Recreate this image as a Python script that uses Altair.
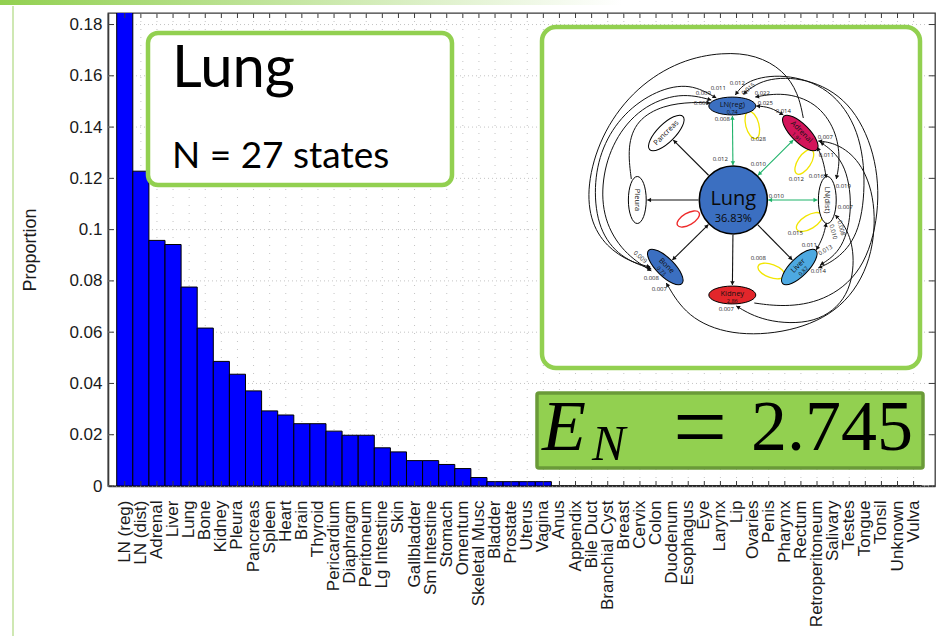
import math
import altair as alt
import pandas as pd

# ---------------- bar chart data ----------------
sites = ["LN (reg)", "LN (dist)", "Adrenal", "Liver", "Lung", "Bone", "Kidney", "Pleura",
         "Pancreas", "Spleen", "Heart", "Brain", "Thyroid", "Pericardium", "Diaphragm",
         "Peritoneum", "Lg Intestine", "Skin", "Gallbladder", "Sm Intestine", "Stomach",
         "Omentum", "Skeletal Musc", "Bladder", "Prostate", "Uterus", "Vagina", "Anus",
         "Appendix", "Bile Duct", "Branchial Cyst", "Breast", "Cervix", "Colon", "Duodenum",
         "Esophagus", "Eye", "Larynx", "Lip", "Ovaries", "Penis", "Pharynx", "Rectum",
         "Retroperitoneum", "Salivary", "Testes", "Tongue", "Tonsil", "Unknown", "Vulva"]
proportion = [0.19, 0.1228, 0.0958, 0.0942, 0.0776, 0.0616, 0.0486, 0.0436, 0.0371, 0.0293,
              0.0277, 0.0243, 0.0243, 0.0214, 0.0198, 0.0198, 0.0149, 0.0133, 0.0099, 0.0099,
              0.0084, 0.0068, 0.0033, 0.0017, 0.0017, 0.0017, 0.0017,
              0, 0, 0, 0, 0, 0, 0, 0, 0, 0, 0, 0, 0, 0, 0, 0, 0, 0, 0, 0, 0, 0, 0]
y_ticks = [0, 0.02, 0.04, 0.06, 0.08, 0.1, 0.12, 0.14, 0.16, 0.18]

# ---------------- network inset data ----------------
# coordinates are pixels relative to the centre of the Lung node, y pointing down
node_names = ["LN(reg)", "Adrenal", "LN(dist)", "Liver", "Kidney", "Bone", "Pleura", "Pancreas"]
node_x = [-1, 67, 94, 66, -1, -68, -96, -67]
node_y = [-94, -67, 0, 67, 95, 67, 0, -67]
node_angle = [0, 45, 90, 315, 0, 45, 90, 315]
node_fill = ["#3b6fc1", "#d3145a", "#ffffff", "#4da9e1", "#e3262b", "#3b6fc1", "#ffffff", "#ffffff"]
node_sub = ["0.74", "1.91", "", "0.82", "2.86", "0.73", "", ""]
lung_share = "36.83%"
green_links = ["LN(reg)", "Adrenal", "LN(dist)"]
two_way_links = ["LN(reg)", "Adrenal", "LN(dist)", "Bone"]

curves = [
    ([(70, -82), (65, -107), (50, -130), (23, -145), (-10, -148), (-53, -140), (-97, -113),
      (-130, -70), (-146, -20), (-144, 20), (-127, 47), (-103, 62), (-83, 67)], "end"),
    ([(-82, 69), (-113, 58), (-135, 30), (-140, -13), (-132, -53), (-110, -87), (-77, -110),
      (-43, -117), (-17, -102)], "both"),
    ([(-22, -100), (-53, -108), (-93, -93), (-120, -60), (-132, -20), (-130, 20), (-110, 53),
      (-82, 71)], "both"),
    ([(-102, -21), (-106, -53), (-97, -80), (-70, -95), (-40, -98), (-23, -97)], "end"),
    ([(2, -105), (13, -120), (50, -127), (97, -113), (127, -70), (133, -13), (125, 37),
      (103, 60), (85, 68)], "both"),
    ([(10, -106), (30, -122), (73, -123), (117, -100), (143, -47), (147, 13), (130, 73),
      (90, 102), (50, 107), (21, 103)], "start"),
    ([(22, -103), (50, -108), (83, -98), (103, -70), (107, -40), (103, -21)], "both"),
    ([(23, -94), (37, -93), (50, -85)], "both"),
    ([(84, -53), (90, -40), (93, -22)], "both"),
    ([(93, 23), (90, 37), (83, 50)], "both"),
    ([(-67, 83), (-47, 117), (-3, 136), (57, 133), (110, 110), (140, 60), (143, 0),
      (127, -40), (103, -57), (85, -59)], "both"),
    ([(3, 106), (30, 122), (83, 125), (117, 97), (122, 53), (113, 27), (102, 15)], "both"),
    ([(87, -58), (112, -40), (120, 7), (110, 50), (87, 65)], "both"),
]

# self-loops: x, y, half length, angle, colour
loop_x = [19, 71, 76, 38, -45]
loop_y = [-75, -38, 22, 71, 19]
loop_len = [14, 14, 14.5, 14, 12.5]
loop_angle = [75, 123, 329, 20, 330]
loop_color = ["#f2e600", "#f2e600", "#f2e600", "#f2e600", "#ee2a2a"]

edge_text = ["0.011", "0.012", "0.015", "0.022", "0.009", "0.009", "0.025", "0.014", "0.008",
             "0.028", "0.012", "0.010", "0.007", "0.011", "0.012", "0.016", "0.019", "0.010",
             "0.007", "0.015", "0.010", "0.008", "0.011", "0.013", "0.014", "0.008", "0.009",
             "0.008", "0.007", "0.007"]
edge_text_x = [-15, 4, 15, 29, -30, -32, 32, 50, -11, 25, -13, 25, 92, 93, 63, 83, 110, 43,
               112, 62, 100, 108, 76, 92, 85, 25, -93, -82, -74, -7]
edge_text_y = [-112, -117, -111, -107, -107, -97, -97, -89, -81, -61, -41, -36, -63, -45, -21,
               -24, -14, -4, 7, 33, 32, 28, 45, 50, 71, 58, 57, 78, 89, 109]
edge_text_angle = [0, 0, 320, 0, 0, 0, 0, 0, 0, 0, 0, 0, 0, 0, 0, 0, 0, 0, 0, 0, 75, 75, 0,
                   330, 0, 0, 40, 0, 0, 0]

# ---------------- layout ----------------
W, H = 827, 473
Y_MAX = 0.1845
GREEN = "#92d050"
LINK_GREEN = "#1fb36a"
FONT = "Liberation Sans"

bars_df = pd.DataFrame({"site": sites, "proportion": proportion})
ticks_df = pd.DataFrame({"v": y_ticks})
one = pd.DataFrame({"k": [0]})

xscale = alt.Scale(domain=sites, paddingInner=0, paddingOuter=0.685, align=0.395)
yscale = alt.Scale(domain=[0, Y_MAX], nice=False, zero=True)

xaxis = alt.Axis(labelAngle=270, labelAlign="right", labelBaseline="middle", labelFont=FONT,
                 labelFontSize=17, labelColor="#1a1a1a", labelPadding=14, tickSize=0,
                 ticks=False, domainColor="#3a3a3a", domainWidth=1.3, labelOverlap=False,
                 labelBound=False, grid=False, title=None)
yaxis = alt.Axis(values=y_ticks, format="~g", labelFont=FONT, labelFontSize=17,
                 labelColor="#1a1a1a", labelPadding=6, tickSize=0, ticks=False, grid=False,
                 domainColor="#3a3a3a", domainWidth=1.6,
                 title="Proportion", titleFont=FONT, titleFontSize=18, titleFontWeight="normal",
                 titleColor="#1a1a1a", titleAngle=270, titleX=-78, titleY=H / 2,
                 titleAlign="center", titleBaseline="middle")

# every layer of the bar panel carries the same axis definition so they merge into one
XS = alt.X("site:N", scale=xscale, axis=xaxis)
vgrid = alt.Chart(bars_df).mark_rule(color="#c4c4c4", strokeDash=[1, 7], strokeWidth=1).encode(
    x=XS, y=alt.value(0), y2=alt.value(H))
hgrid = alt.Chart(ticks_df).mark_rule(color="#c4c4c4", strokeDash=[1, 3], strokeWidth=1).encode(
    y=alt.Y("v:Q", scale=yscale, axis=yaxis), x=alt.value(0), x2=alt.value(W))
bars = alt.Chart(bars_df).mark_bar(color="#0000ff", stroke="#000000", strokeWidth=1,
                                   clip=True).encode(
    x=XS, y=alt.Y("proportion:Q", scale=yscale, axis=yaxis))
tick_style = dict(color="#3a3a3a", strokeWidth=1)
left_ticks = alt.Chart(ticks_df).mark_rule(**tick_style).encode(
    y=alt.Y("v:Q", scale=yscale, axis=yaxis), x=alt.value(0), x2=alt.value(6))
right_ticks = alt.Chart(ticks_df).mark_rule(**tick_style).encode(
    y=alt.Y("v:Q", scale=yscale, axis=yaxis), x=alt.value(W - 6), x2=alt.value(W))
top_ticks = alt.Chart(bars_df).mark_rule(**tick_style).encode(
    x=XS, y=alt.value(0), y2=alt.value(5))
bottom_ticks = alt.Chart(bars_df).mark_rule(**tick_style).encode(
    x=XS, y=alt.value(H - 5), y2=alt.value(H))

bar_group = alt.layer(vgrid, hgrid, bars, left_ticks, right_ticks, top_ticks, bottom_ticks)


def rect(x1, y1, x2, y2, **kw):
    return alt.Chart(one).mark_rect(**kw).encode(
        x=alt.value(x1), x2=alt.value(x2), y=alt.value(y1), y2=alt.value(y2))


def label(txt, x, y, **kw):
    return alt.Chart(one).mark_text(**kw).encode(
        x=alt.value(x), y=alt.value(y), text=alt.value(txt))


# slide decoration: fading band on top, thin rule on the left
top_band = rect(-108, -13, 834, -8, fill=alt.Gradient(
    gradient="linear", x1=0, x2=1, y1=0, y2=0,
    stops=[alt.GradientStop(color="#92d050", offset=0),
           alt.GradientStop(color="#ffffff", offset=0.66)]))
left_rule = rect(-96, -7, -94, 623, fill="#cfe8b3")

# "Lung / N = 27 states" panel
lung_box = rect(40, 20, 344, 172, fill="white", stroke=GREEN, strokeWidth=4.5, cornerRadius=10)
lung_title = label("Lung", 64, 74, font="Lato", fontSize=58, align="left",
                   baseline="alphabetic", color="black")
lung_n = label("N = 27 states", 64, 155, font="Lato", fontSize=37, align="left",
               baseline="alphabetic", color="black")

# entropy panel
en_box = rect(429, 380, 815, 455, fill=GREEN, stroke="#6a9a38", strokeWidth=3.5, cornerRadius=2)
en_e = label("E", 434, 437, font="Liberation Serif", fontStyle="italic", fontSize=72,
             align="left", baseline="alphabetic", color="black")
en_sub = label("N", 484, 447, font="Liberation Serif", fontStyle="italic", fontSize=50,
               align="left", baseline="alphabetic", color="black")
en_eq = label("=", 592, 446, font="Liberation Serif", fontSize=96, align="center",
              baseline="alphabetic", color="black")
en_val = label("2.745", 643, 437, font="Liberation Serif", fontSize=72, align="left",
               baseline="alphabetic", color="black")

# network panel frame
net_box = rect(434, 14, 812, 355, fill="white", stroke=GREEN, strokeWidth=4.5, cornerRadius=14)

# ---------------- network drawing ----------------
CX, CY = 625.3, 187.0
dxs = alt.Scale(domain=[-200, 200], range=[CX - 200, CX + 200], nice=False, zero=False)
dys = alt.Scale(domain=[-200, 200], range=[CY - 200, CY + 200], nice=False, zero=False)


def X(f="x"):
    return alt.X(f + ":Q", scale=dxs, axis=None)


def Y(f="y"):
    return alt.Y(f + ":Q", scale=dys, axis=None)


def ellipse_path(ratio):
    k = 0.5523
    r = ratio
    return (f"M1,0C1,{k*r:.4f},{k:.4f},{r},0,{r}C{-k:.4f},{r},-1,{k*r:.4f},-1,0"
            f"C-1,{-k*r:.4f},{-k:.4f},{-r},0,{-r}C{k:.4f},{-r},1,{-k*r:.4f},1,0Z")


def head(px, py, qx, qy, color):
    dx, dy = qx - px, qy - py
    L = math.hypot(dx, dy)
    ux, uy = dx / L, dy / L
    ang = math.degrees(math.atan2(dx, -dy)) % 360
    return {"x": qx - 2.5 * ux, "y": qy - 2.5 * uy, "ang": ang, "col": color}


heads = []
straight = []
for name, nx, ny in zip(node_names, node_x, node_y):
    L = math.hypot(nx, ny)
    ux, uy = nx / L, ny / L
    col = LINK_GREEN if name in green_links else "#111111"
    sx, sy = 35 * ux, 35 * uy
    ex, ey = nx - 10 * ux, ny - 10 * uy
    straight.append({"x": sx, "y": sy, "x2": ex, "y2": ey, "col": col})
    heads.append(head(sx, sy, ex, ey, col))
    if name in two_way_links:
        heads.append(head(ex, ey, sx, sy, col))
straight_df = pd.DataFrame(straight)

curve_rows = []
for ci, (pts, kind) in enumerate(curves):
    for i, (px, py) in enumerate(pts):
        curve_rows.append({"edge": ci, "i": i, "x": px, "y": py})
    if kind in ("end", "both"):
        heads.append(head(pts[-2][0], pts[-2][1], pts[-1][0], pts[-1][1], "#111111"))
    if kind in ("start", "both"):
        heads.append(head(pts[1][0], pts[1][1], pts[0][0], pts[0][1], "#111111"))
curve_df = pd.DataFrame(curve_rows)
heads_df = pd.DataFrame(heads)

loops_df = pd.DataFrame({"x": loop_x, "y": loop_y, "s": [(2 * v) ** 2 for v in loop_len],
                         "ang": loop_angle, "col": loop_color})
nodes_df = pd.DataFrame({"name": node_names, "x": node_x, "y": node_y,
                         "s": [(2 * 23.5) ** 2] * len(node_names), "ang": node_angle,
                         "fill": node_fill})

name_rows, sub_rows = [], []
for name, nx, ny, a, sub in zip(node_names, node_x, node_y, node_angle, node_sub):
    upx, upy = math.sin(math.radians(a)), -math.cos(math.radians(a))
    off = 1.5 if sub else 0
    name_rows.append({"t": name, "x": nx + off * upx, "y": ny + off * upy, "ang": a})
    if sub:
        sub_rows.append({"t": sub, "x": nx - 5.5 * upx, "y": ny - 5.5 * upy, "ang": a})
names_df = pd.DataFrame(name_rows)
subs_df = pd.DataFrame(sub_rows)
edge_lbl_df = pd.DataFrame({"t": edge_text, "x": edge_text_x, "y": edge_text_y,
                            "ang": edge_text_angle})
lung_df = pd.DataFrame({"x": [0], "y": [0]})

curve_layer = alt.Chart(curve_df).mark_line(interpolate="basis", color="#111111",
                                            strokeWidth=1).encode(
    x=X(), y=Y(), detail="edge:N", order="i:Q")
straight_layer = alt.Chart(straight_df).mark_rule(strokeWidth=1.1).encode(
    x=X(), y=Y(), x2="x2:Q", y2="y2:Q", color=alt.Color("col:N", scale=None))
loop_layer = alt.Chart(loops_df).mark_point(shape=ellipse_path(0.47), filled=False,
                                            strokeWidth=1.3, opacity=1).encode(
    x=X(), y=Y(), size=alt.Size("s:Q", scale=None), angle=alt.Angle("ang:Q", scale=None),
    color=alt.Color("col:N", scale=None))
node_layer = alt.Chart(nodes_df).mark_point(shape=ellipse_path(0.38), filled=True,
                                            stroke="#000000", strokeWidth=1,
                                            opacity=1).encode(
    x=X(), y=Y(), size=alt.Size("s:Q", scale=None), angle=alt.Angle("ang:Q", scale=None),
    fill=alt.Fill("fill:N", scale=None))
lung_node = alt.Chart(lung_df).mark_point(shape="circle", size=68 * 68, filled=True,
                                          fill="#3b6fc1", stroke="#000000", strokeWidth=1.6,
                                          opacity=1).encode(x=X(), y=Y())
head_layer = alt.Chart(heads_df).mark_point(shape="triangle", size=20, filled=True,
                                            opacity=1, strokeWidth=0).encode(
    x=X(), y=Y(), angle=alt.Angle("ang:Q", scale=None), color=alt.Color("col:N", scale=None))
name_layer = alt.Chart(names_df).mark_text(font="Open Sans", fontSize=7.5, color="#111111",
                                           baseline="middle", align="center").encode(
    x=X(), y=Y(), text="t:N", angle=alt.Angle("ang:Q", scale=None))
sub_layer = alt.Chart(subs_df).mark_text(font="Open Sans", fontSize=5.5, color="#111111",
                                         baseline="middle", align="center").encode(
    x=X(), y=Y(), text="t:N", angle=alt.Angle("ang:Q", scale=None))
edge_lbl_layer = alt.Chart(edge_lbl_df).mark_text(font="Open Sans", fontSize=6,
                                                  color="#222222", baseline="middle",
                                                  align="center").encode(
    x=X(), y=Y(), text="t:N", angle=alt.Angle("ang:Q", scale=None))
lung_word = alt.Chart(lung_df).mark_text(text="Lung", font="Open Sans", fontSize=20,
                                         color="#0a0a0a", baseline="alphabetic",
                                         dy=5).encode(x=X(), y=Y())
lung_pct = alt.Chart(lung_df).mark_text(text=lung_share, font="Open Sans", fontSize=11,
                                        color="#0a0a0a", baseline="alphabetic",
                                        dy=22).encode(x=X(), y=Y())

network = alt.layer(curve_layer, straight_layer, loop_layer, node_layer, lung_node,
                    head_layer, name_layer, sub_layer, edge_lbl_layer, lung_word, lung_pct)

chart = alt.layer(
    bar_group, top_band, left_rule,
    lung_box, lung_title, lung_n,
    net_box, network,
    en_box, en_e, en_sub, en_eq, en_val,
).resolve_scale(x="independent", y="independent").properties(
    width=W, height=H, autosize="none",
    padding={"left": 108, "top": 13, "right": 7, "bottom": 150},
    background="white",
).configure_view(stroke="#3a3a3a", strokeWidth=1.3)

chart.save("out.html", embed_options={"renderer": "svg", "actions": False})
